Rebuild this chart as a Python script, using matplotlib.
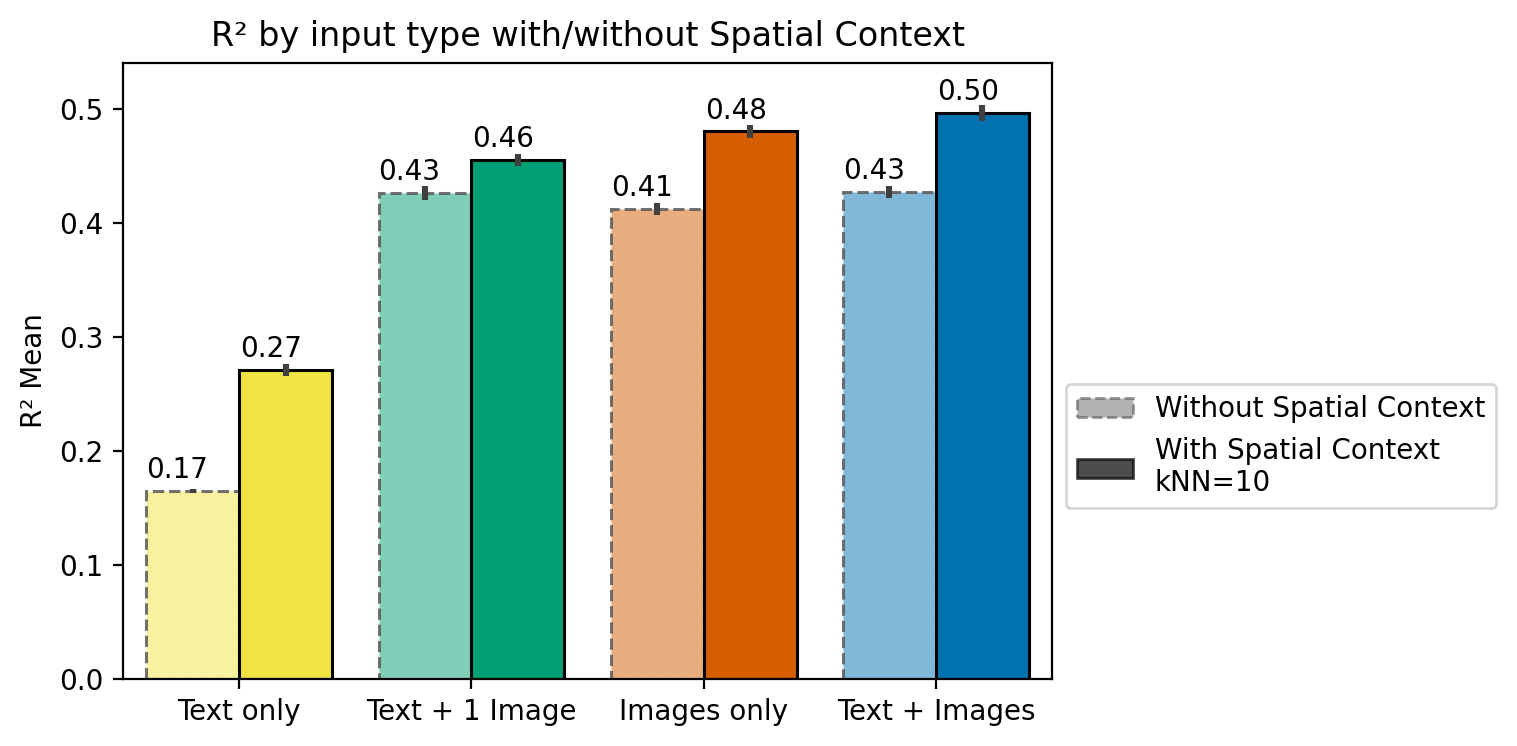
import matplotlib.pyplot as plt
import numpy as np
from matplotlib.patches import Patch
from matplotlib.colors import to_rgba

categories = ['Text only', 'Text + 1 Image', 'Images only', 'Text + Images']
without_ctx = [0.165, 0.426, 0.412, 0.427]
with_ctx = [0.271, 0.455, 0.480, 0.496]
without_err = [0.002, 0.006, 0.005, 0.005]
with_err = [0.005, 0.005, 0.006, 0.007]
colors = ['#F0E442', '#009E73', '#D55E00', '#0072B2']

fig = plt.figure(figsize=(7.585, 3.73), dpi=200)
ax = fig.add_axes([0.0811, 0.0898, 0.6124, 0.8257])

x = np.arange(len(categories))
w = 0.4
for i in range(len(categories)):
    ax.bar(x[i] - w / 2, without_ctx[i], w, facecolor=to_rgba(colors[i], 0.5),
           edgecolor=(0.35, 0.35, 0.35, 0.85), linestyle='--', linewidth=1.1)
    ax.bar(x[i] + w / 2, with_ctx[i], w, facecolor=colors[i],
           edgecolor='black', linewidth=1.1)
    ax.errorbar(x[i] - w / 2, without_ctx[i], yerr=without_err[i], fmt='none',
                ecolor='#404040', elinewidth=2.2, capsize=0)
    ax.errorbar(x[i] + w / 2, with_ctx[i], yerr=with_err[i], fmt='none',
                ecolor='#404040', elinewidth=2.2, capsize=0)
    ax.text(x[i] - w, without_ctx[i] + 0.006, f'{without_ctx[i]:.2f}',
            ha='left', va='bottom', fontsize=10)
    ax.text(x[i] + 0.005, with_ctx[i] + 0.006, f'{with_ctx[i]:.2f}',
            ha='left', va='bottom', fontsize=10)

ax.set_xticks(x)
ax.set_xticklabels(categories)
ax.set_xlim(-0.5, 3.5)
ax.set_ylim(0, 0.54)
ax.set_ylabel('R² Mean')
ax.set_title('R² by input type with/without Spatial Context')

handles = [
    Patch(facecolor='gray', edgecolor='#555555', linestyle='--', alpha=0.6,
          label='Without Spatial Context'),
    Patch(facecolor='black', edgecolor='black', alpha=0.7,
          label='With Spatial Context\nkNN=10'),
]
ax.legend(handles=handles, loc='center left', bbox_to_anchor=(1.0, 0.378),
          fontsize=10)

fig.savefig('out.png', dpi=200)
